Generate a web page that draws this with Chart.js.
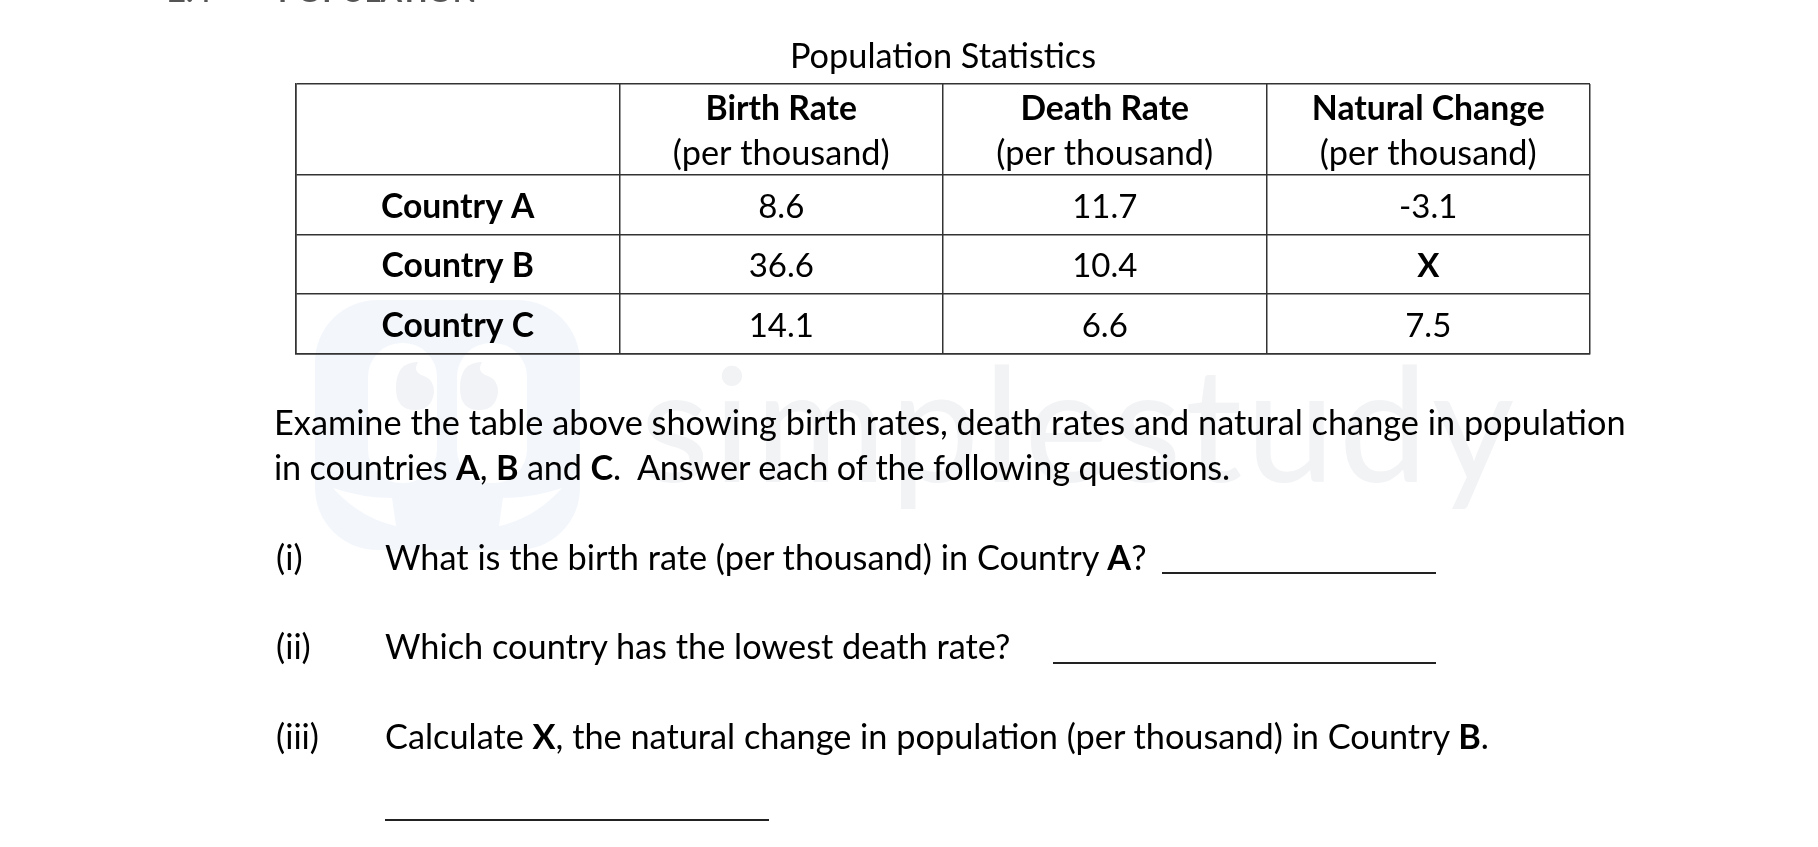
<!DOCTYPE html>
<html>
<head>
<meta charset="utf-8">
<title>Population Statistics</title>
<script src="https://cdn.jsdelivr.net/npm/chart.js@4"></script>
<style>
    html, body { margin: 0; padding: 0; background: #fff; overflow: hidden; }
    #page { position: relative; width: 1818px; height: 847px; overflow: hidden; font-family: Lato, sans-serif; font-size: 34.3px; color: #000; }
    #page svg, #graph { position: absolute; left: 0; top: 0; }
    .line { position: absolute; white-space: pre; line-height: 44px; height: 44px; }
    .rule { position: absolute; height: 2px; background: #222; }
    #mark { position: absolute; left: 640px; top: 325px; font-size: 160px; letter-spacing: 3.5px; line-height: 190px; color: #f2f3f5; white-space: pre; }
</style>
</head>
<body>
<div id="page">
    <svg width="1818" height="847">
        <rect x="315" y="300" width="265" height="250" rx="62" fill="#f3f7fc"/>
        <rect x="368" y="343" width="69" height="140" rx="34" fill="#fff"/>
        <rect x="457" y="343" width="70" height="140" rx="34" fill="#fff"/>
        <path d="M396 388 Q396 362 418 362 Q412 372 424 376 Q434 380 434 392 Q432 410 415 410 Q396 410 396 388 Z" fill="#f1f3f6"/>
        <path d="M460 388 Q460 362 482 362 Q476 372 488 376 Q498 380 498 392 Q496 410 479 410 Q460 410 460 388 Z" fill="#f1f3f6"/>
        <path d="M333 488 Q362 498 392 498 L396 526 Q360 518 333 488 Z" fill="#fff"/>
        <path d="M562 488 Q533 498 503 498 L499 526 Q535 518 562 488 Z" fill="#fff"/>
    </svg>
    <div id="mark">simplestudy</div>
    <canvas id="graph" width="1818" height="847"></canvas>

    <div class="line" style="left:168px;top:-32px;font-size:31px;font-weight:700;color:#555">2.4</div>
    <div class="line" style="left:278px;top:-32px;font-size:31px;font-weight:700;color:#555">POPULATION</div>

    <div class="line" style="left:274px;top:400px">Examine the table above showing birth rates, death rates and natural change in population</div>
    <div class="line" style="left:274px;top:445px;letter-spacing:-0.18px">in countries <b>A</b>, <b>B</b> and <b>C</b>.  Answer each of the following questions.</div>

    <div class="line" style="left:276px;top:535px">(i)</div>
    <div class="line" style="left:385px;top:535px">What is the birth rate (per thousand) in Country <b>A</b>?</div>
    <div class="rule" style="left:1162px;top:572px;width:274px"></div>

    <div class="line" style="left:276px;top:624px">(ii)</div>
    <div class="line" style="left:385px;top:624px">Which country has the lowest death rate?</div>
    <div class="rule" style="left:1053px;top:662px;width:383px"></div>

    <div class="line" style="left:276px;top:714px">(iii)</div>
    <div class="line" style="left:385px;top:714px">Calculate <b>X</b>, the natural change in population (per thousand) in Country <b>B</b>.</div>
    <div class="rule" style="left:385px;top:819px;width:384px"></div>
</div>

<script>
"use strict"

const chartTitle = "Population Statistics";
const columnNames = ["Birth Rate", "Death Rate", "Natural Change"];
const columnUnit = "(per thousand)";
const countries = ["Country A", "Country B", "Country C"];
const birthRate = [8.6, 36.6, 14.1];
const deathRate = [11.7, 10.4, 6.6];
const naturalChange = [-3.1, "X", 7.5];

// table grid: the header row is one and a half rows tall
const columnEdges = [0, 1, 2, 3, 4];
const rowEdges = [0, 1.516, 2.516, 3.516, 4.516];

const textFont = "Lato";
const textSize = 34.3;
const boldSize = 33.7;
const numberSize = 33;

function rowCentre(i) {
    return (rowEdges[i + 1] + rowEdges[i + 2]) / 2;
}

function cellPoints(values, col) {
    return values.map(function (value, i) {
        return { x: col + 0.5, y: rowCentre(i), text: [String(value)], bold: value === "X", size: numberSize };
    });
}

const headerPoints = columnNames.map(function (name, i) {
    return { x: i + 1.5, y: (rowEdges[0] + rowEdges[1]) / 2, text: [name, columnUnit], boldFirst: true };
});
const countryPoints = countries.map(function (name, i) {
    return { x: 0.5, y: rowCentre(i), text: [name], bold: true };
});

// writes the text of each cell on the point the scales placed for it
const cellText = {
    id: "cellText",
    afterDatasetsDraw: function (chart) {
        let ctx = chart.ctx;
        ctx.save();
        ctx.fillStyle = "#000";
        ctx.textAlign = "center";
        ctx.textBaseline = "alphabetic";
        chart.data.datasets.forEach(function (dataset, d) {
            chart.getDatasetMeta(d).data.forEach(function (el, i) {
                let cell = dataset.data[i];
                let top = el.y - (cell.text.length - 1) * 22;
                cell.text.forEach(function (line, l) {
                    let bold = cell.bold || (cell.boldFirst && l == 0);
                    let size = cell.size || (bold ? boldSize : textSize);
                    ctx.font = (bold ? "700 " : "400 ") + size + "px " + textFont;
                    ctx.fillText(line, el.x, top + l * 45 + 13);
                });
            });
        });
        ctx.restore();
    }
};

function dataset(label, data) {
    return { label: label, data: data, pointRadius: 0, showLine: false };
}

new Chart(document.getElementById("graph"), {
    type: "scatter",
    data: {
        datasets: [
            dataset("header", headerPoints),
            dataset("country", countryPoints),
            dataset("Birth Rate", cellPoints(birthRate, 1)),
            dataset("Death Rate", cellPoints(deathRate, 2)),
            dataset("Natural Change", cellPoints(naturalChange, 3))
        ]
    },
    options: {
        responsive: false,
        animation: false,
        layout: { padding: { left: 296, right: 228, top: 36, bottom: 493 } },
        plugins: {
            legend: { display: false },
            tooltip: { enabled: false },
            title: {
                display: true,
                text: chartTitle,
                color: "#000",
                font: { family: textFont, size: textSize, weight: "400", lineHeight: 1.2 },
                padding: { top: 0, bottom: 6.84 }
            }
        },
        scales: {
            x: {
                type: "linear",
                min: 0,
                max: 4,
                afterBuildTicks: function (axis) {
                    axis.ticks = columnEdges.map(function (v) { return { value: v }; });
                },
                ticks: { display: false },
                grid: { color: "#333", lineWidth: 1.5, drawTicks: false },
                border: { color: "#333", width: 1.5 }
            },
            y: {
                type: "linear",
                reverse: true,
                min: 0,
                max: 4.516,
                afterBuildTicks: function (axis) {
                    axis.ticks = rowEdges.map(function (v) { return { value: v }; });
                },
                ticks: { display: false },
                grid: { color: "#333", lineWidth: 1.5, drawTicks: false },
                border: { color: "#333", width: 1.5 }
            }
        }
    },
    plugins: [cellText]
});
</script>
</body>
</html>
